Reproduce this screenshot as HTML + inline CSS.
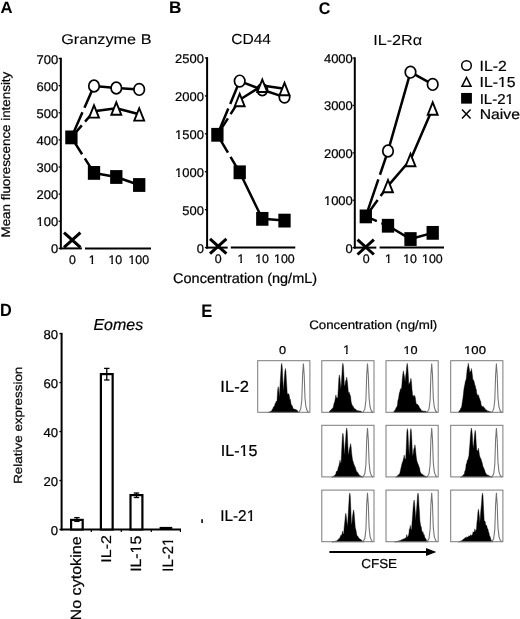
<!DOCTYPE html>
<html><head><meta charset="utf-8"><style>
html,body{margin:0;padding:0;background:#fff;}
svg{display:block;will-change:transform;}
text{text-rendering:geometricPrecision;font-kerning:none;font-family:"Liberation Sans", sans-serif;fill:#000;stroke:#000;stroke-width:0.22px;}
</style></head><body>
<svg width="520" height="619" viewBox="0 0 520 619">
<rect width="520" height="619" fill="#fff"/>
<text x="0.52" y="13.10" font-size="16.42" textLength="12.07" lengthAdjust="spacingAndGlyphs" font-weight="bold" style="stroke-width:0.05px">A</text>
<text x="169.01" y="12.90" font-size="16.86" textLength="12.43" lengthAdjust="spacingAndGlyphs" font-weight="bold" style="stroke-width:0.05px">B</text>
<text x="318.67" y="14.00" font-size="16.91" textLength="11.63" lengthAdjust="spacingAndGlyphs" font-weight="bold" style="stroke-width:0.05px">C</text>
<text x="0.08" y="315.80" font-size="17.73" textLength="11.76" lengthAdjust="spacingAndGlyphs" font-weight="bold" style="stroke-width:0.05px">D</text>
<text x="201.26" y="316.70" font-size="18.17" textLength="11.04" lengthAdjust="spacingAndGlyphs" font-weight="bold" style="stroke-width:0.05px">E</text>
<line x1="60.85" y1="57.70" x2="60.85" y2="249.40" stroke="#000" stroke-width="2" />
<line x1="58.65" y1="248.40" x2="60.85" y2="248.40" stroke="#000" stroke-width="1.3" />
<text x="58.21" y="253.40" font-size="12.6" text-anchor="end" textLength="7.22" lengthAdjust="spacingAndGlyphs" >0</text>
<line x1="58.65" y1="221.27" x2="60.85" y2="221.27" stroke="#000" stroke-width="1.3" />
<text x="58.21" y="226.27" font-size="12.6" text-anchor="end" textLength="21.66" lengthAdjust="spacingAndGlyphs" >100</text>
<g fill="#fff"><rect x="36.81" y="224.33" width="2.70" height="3.15"/><rect x="41.26" y="224.33" width="2.62" height="3.15"/></g>
<line x1="58.65" y1="194.14" x2="60.85" y2="194.14" stroke="#000" stroke-width="1.3" />
<text x="58.21" y="199.14" font-size="12.6" text-anchor="end" textLength="21.66" lengthAdjust="spacingAndGlyphs" >200</text>
<line x1="58.65" y1="167.01" x2="60.85" y2="167.01" stroke="#000" stroke-width="1.3" />
<text x="58.21" y="172.01" font-size="12.6" text-anchor="end" textLength="21.66" lengthAdjust="spacingAndGlyphs" >300</text>
<line x1="58.65" y1="139.89" x2="60.85" y2="139.89" stroke="#000" stroke-width="1.3" />
<text x="58.21" y="144.89" font-size="12.6" text-anchor="end" textLength="21.66" lengthAdjust="spacingAndGlyphs" >400</text>
<line x1="58.65" y1="112.76" x2="60.85" y2="112.76" stroke="#000" stroke-width="1.3" />
<text x="58.21" y="117.76" font-size="12.6" text-anchor="end" textLength="21.66" lengthAdjust="spacingAndGlyphs" >500</text>
<line x1="58.65" y1="85.63" x2="60.85" y2="85.63" stroke="#000" stroke-width="1.3" />
<text x="58.21" y="90.63" font-size="12.6" text-anchor="end" textLength="21.66" lengthAdjust="spacingAndGlyphs" >600</text>
<line x1="58.65" y1="58.50" x2="60.85" y2="58.50" stroke="#000" stroke-width="1.3" />
<text x="58.21" y="63.50" font-size="12.6" text-anchor="end" textLength="21.66" lengthAdjust="spacingAndGlyphs" >700</text>
<line x1="59.85" y1="248.40" x2="81.90" y2="248.40" stroke="#000" stroke-width="2" />
<line x1="85.00" y1="248.40" x2="151.00" y2="248.40" stroke="#000" stroke-width="2" />
<text x="72.40" y="264.00" font-size="12.4" text-anchor="middle" >0</text>
<text x="92.10" y="264.00" font-size="12.4" text-anchor="middle" >1</text>
<g fill="#fff"><rect x="88.90" y="262.07" width="2.56" height="3.13"/><rect x="93.17" y="262.07" width="2.49" height="3.13"/></g>
<text x="115.35" y="264.00" font-size="12.4" text-anchor="middle" >10</text>
<g fill="#fff"><rect x="108.70" y="262.07" width="2.56" height="3.13"/><rect x="112.97" y="262.07" width="2.49" height="3.13"/></g>
<text x="138.80" y="264.00" font-size="12.4" text-anchor="middle" >100</text>
<g fill="#fff"><rect x="128.70" y="262.07" width="2.56" height="3.13"/><rect x="132.97" y="262.07" width="2.49" height="3.13"/></g>
<path d="M71.40 137.40 L82.44 112.28 M84.46 107.71 L94.00 86.00 L116.30 88.00 L139.20 89.40" fill="none" stroke="#000" stroke-width="2.5" stroke-linejoin="round"/>
<path d="M71.40 137.40 L81.82 125.35 M85.08 121.57 L94.00 111.25 L116.30 108.30 L139.20 114.20" fill="none" stroke="#000" stroke-width="2.5" stroke-linejoin="round"/>
<path d="M71.40 137.40 L82.11 154.22 M84.79 158.44 L94.00 172.90 L116.30 177.00 L139.20 185.00" fill="none" stroke="#000" stroke-width="2.5" stroke-linejoin="round"/>
<rect x="65.25" y="130.50" width="12.3" height="13.8" fill="#000"/>
<rect x="87.85" y="166.00" width="12.3" height="13.8" fill="#000"/>
<rect x="110.15" y="170.10" width="12.3" height="13.8" fill="#000"/>
<rect x="133.05" y="178.10" width="12.3" height="13.8" fill="#000"/>
<ellipse cx="94.00" cy="86.00" rx="5.25" ry="5.85" fill="#fff" stroke="#000" stroke-width="1.7"/>
<ellipse cx="116.30" cy="88.00" rx="5.25" ry="5.85" fill="#fff" stroke="#000" stroke-width="1.7"/>
<ellipse cx="139.20" cy="89.40" rx="5.25" ry="5.85" fill="#fff" stroke="#000" stroke-width="1.7"/>
<polygon points="89.05,117.65 98.95,117.65 94.00,105.30" fill="#fff" stroke="#000" stroke-width="1.9"/>
<polygon points="111.35,114.70 121.25,114.70 116.30,102.35" fill="#fff" stroke="#000" stroke-width="1.9"/>
<polygon points="134.25,120.60 144.15,120.60 139.20,108.25" fill="#fff" stroke="#000" stroke-width="1.9"/>
<path d="M64.00 232.60L80.40 247.40M64.00 247.40L80.40 232.60" stroke="#000" stroke-width="3"/>
<line x1="207.10" y1="57.20" x2="207.10" y2="248.60" stroke="#000" stroke-width="2" />
<line x1="204.90" y1="247.60" x2="207.10" y2="247.60" stroke="#000" stroke-width="1.3" />
<text x="204.01" y="252.60" font-size="12.6" text-anchor="end" textLength="7.22" lengthAdjust="spacingAndGlyphs" >0</text>
<line x1="204.90" y1="209.68" x2="207.10" y2="209.68" stroke="#000" stroke-width="1.3" />
<text x="204.01" y="214.68" font-size="12.6" text-anchor="end" textLength="21.66" lengthAdjust="spacingAndGlyphs" >500</text>
<line x1="204.90" y1="171.76" x2="207.10" y2="171.76" stroke="#000" stroke-width="1.3" />
<text x="204.01" y="176.76" font-size="12.6" text-anchor="end" textLength="28.87" lengthAdjust="spacingAndGlyphs" >1000</text>
<g fill="#fff"><rect x="175.39" y="174.81" width="2.70" height="3.15"/><rect x="179.85" y="174.81" width="2.62" height="3.15"/></g>
<line x1="204.90" y1="133.84" x2="207.10" y2="133.84" stroke="#000" stroke-width="1.3" />
<text x="204.01" y="138.84" font-size="12.6" text-anchor="end" textLength="28.87" lengthAdjust="spacingAndGlyphs" >1500</text>
<g fill="#fff"><rect x="175.39" y="136.89" width="2.70" height="3.15"/><rect x="179.85" y="136.89" width="2.62" height="3.15"/></g>
<line x1="204.90" y1="95.92" x2="207.10" y2="95.92" stroke="#000" stroke-width="1.3" />
<text x="204.01" y="100.92" font-size="12.6" text-anchor="end" textLength="28.87" lengthAdjust="spacingAndGlyphs" >2000</text>
<line x1="204.90" y1="58.00" x2="207.10" y2="58.00" stroke="#000" stroke-width="1.3" />
<text x="204.01" y="63.00" font-size="12.6" text-anchor="end" textLength="28.87" lengthAdjust="spacingAndGlyphs" >2500</text>
<line x1="206.10" y1="247.60" x2="227.70" y2="247.60" stroke="#000" stroke-width="2" />
<line x1="230.80" y1="247.60" x2="295.30" y2="247.60" stroke="#000" stroke-width="2" />
<text x="218.20" y="263.20" font-size="12.4" text-anchor="middle" >0</text>
<text x="240.90" y="263.20" font-size="12.4" text-anchor="middle" >1</text>
<g fill="#fff"><rect x="237.70" y="261.27" width="2.56" height="3.13"/><rect x="241.97" y="261.27" width="2.49" height="3.13"/></g>
<text x="262.10" y="263.20" font-size="12.4" text-anchor="middle" >10</text>
<g fill="#fff"><rect x="255.45" y="261.27" width="2.56" height="3.13"/><rect x="259.72" y="261.27" width="2.49" height="3.13"/></g>
<text x="284.40" y="263.20" font-size="12.4" text-anchor="middle" >100</text>
<g fill="#fff"><rect x="274.30" y="261.27" width="2.56" height="3.13"/><rect x="278.57" y="261.27" width="2.49" height="3.13"/></g>
<path d="M217.40 134.80 L228.29 108.57 M230.21 103.96 L239.70 81.10 L262.30 89.70 L284.50 97.10" fill="none" stroke="#000" stroke-width="2.5" stroke-linejoin="round"/>
<path d="M217.40 134.80 L227.91 118.31 M230.59 114.09 L239.70 99.80 L262.30 85.60 L284.50 88.80" fill="none" stroke="#000" stroke-width="2.5" stroke-linejoin="round"/>
<path d="M217.40 134.80 L227.97 152.58 M230.53 156.88 L239.70 172.30 L262.30 218.85 L284.50 220.60" fill="none" stroke="#000" stroke-width="2.5" stroke-linejoin="round"/>
<rect x="211.25" y="127.90" width="12.3" height="13.8" fill="#000"/>
<rect x="233.55" y="165.40" width="12.3" height="13.8" fill="#000"/>
<rect x="256.15" y="211.95" width="12.3" height="13.8" fill="#000"/>
<rect x="278.35" y="213.70" width="12.3" height="13.8" fill="#000"/>
<ellipse cx="239.70" cy="81.10" rx="5.25" ry="5.85" fill="#fff" stroke="#000" stroke-width="1.7"/>
<ellipse cx="262.30" cy="89.70" rx="5.25" ry="5.85" fill="#fff" stroke="#000" stroke-width="1.7"/>
<ellipse cx="284.50" cy="97.10" rx="5.25" ry="5.85" fill="#fff" stroke="#000" stroke-width="1.7"/>
<polygon points="234.75,106.20 244.65,106.20 239.70,93.85" fill="#fff" stroke="#000" stroke-width="1.9"/>
<polygon points="257.35,92.00 267.25,92.00 262.30,79.65" fill="#fff" stroke="#000" stroke-width="1.9"/>
<polygon points="279.55,95.20 289.45,95.20 284.50,82.85" fill="#fff" stroke="#000" stroke-width="1.9"/>
<path d="M210.00 238.90L226.40 253.70M210.00 253.70L226.40 238.90" stroke="#000" stroke-width="3"/>
<line x1="354.80" y1="57.30" x2="354.80" y2="248.60" stroke="#000" stroke-width="2" />
<line x1="352.60" y1="247.60" x2="354.80" y2="247.60" stroke="#000" stroke-width="1.3" />
<text x="352.81" y="252.60" font-size="12.6" text-anchor="end" textLength="7.22" lengthAdjust="spacingAndGlyphs" >0</text>
<line x1="352.60" y1="200.22" x2="354.80" y2="200.22" stroke="#000" stroke-width="1.3" />
<text x="352.81" y="205.22" font-size="12.6" text-anchor="end" textLength="28.87" lengthAdjust="spacingAndGlyphs" >1000</text>
<g fill="#fff"><rect x="324.19" y="203.28" width="2.70" height="3.15"/><rect x="328.65" y="203.28" width="2.62" height="3.15"/></g>
<line x1="352.60" y1="152.85" x2="354.80" y2="152.85" stroke="#000" stroke-width="1.3" />
<text x="352.81" y="157.85" font-size="12.6" text-anchor="end" textLength="28.87" lengthAdjust="spacingAndGlyphs" >2000</text>
<line x1="352.60" y1="105.47" x2="354.80" y2="105.47" stroke="#000" stroke-width="1.3" />
<text x="352.81" y="110.47" font-size="12.6" text-anchor="end" textLength="28.87" lengthAdjust="spacingAndGlyphs" >3000</text>
<line x1="352.60" y1="58.10" x2="354.80" y2="58.10" stroke="#000" stroke-width="1.3" />
<text x="352.81" y="63.10" font-size="12.6" text-anchor="end" textLength="28.87" lengthAdjust="spacingAndGlyphs" >4000</text>
<line x1="353.80" y1="247.60" x2="376.30" y2="247.60" stroke="#000" stroke-width="2" />
<line x1="379.60" y1="247.60" x2="444.00" y2="247.60" stroke="#000" stroke-width="2" />
<text x="366.20" y="263.20" font-size="12.4" text-anchor="middle" >0</text>
<text x="388.40" y="263.20" font-size="12.4" text-anchor="middle" >1</text>
<g fill="#fff"><rect x="385.20" y="261.27" width="2.56" height="3.13"/><rect x="389.47" y="261.27" width="2.49" height="3.13"/></g>
<text x="410.10" y="263.20" font-size="12.4" text-anchor="middle" >10</text>
<g fill="#fff"><rect x="403.45" y="261.27" width="2.56" height="3.13"/><rect x="407.72" y="261.27" width="2.49" height="3.13"/></g>
<text x="432.40" y="263.20" font-size="12.4" text-anchor="middle" >100</text>
<g fill="#fff"><rect x="422.30" y="261.27" width="2.56" height="3.13"/><rect x="426.57" y="261.27" width="2.49" height="3.13"/></g>
<path d="M365.80 216.40 L378.35 179.47 M379.95 174.73 L388.00 151.05 L410.50 72.15 L432.70 84.40" fill="none" stroke="#000" stroke-width="2.5" stroke-linejoin="round"/>
<path d="M365.80 216.40 L377.68 200.08 M380.62 196.04 L388.00 185.90 L410.50 159.80 L432.70 108.30" fill="none" stroke="#000" stroke-width="2.5" stroke-linejoin="round"/>
<path d="M365.80 216.40 L376.85 221.05 M381.45 222.99 L388.00 225.75 L410.50 239.05 L432.70 232.85" fill="none" stroke="#000" stroke-width="2.5" stroke-linejoin="round"/>
<rect x="359.65" y="209.50" width="12.3" height="13.8" fill="#000"/>
<rect x="381.85" y="218.85" width="12.3" height="13.8" fill="#000"/>
<rect x="404.35" y="232.15" width="12.3" height="13.8" fill="#000"/>
<rect x="426.55" y="225.95" width="12.3" height="13.8" fill="#000"/>
<ellipse cx="388.00" cy="151.05" rx="5.25" ry="5.85" fill="#fff" stroke="#000" stroke-width="1.7"/>
<ellipse cx="410.50" cy="72.15" rx="5.25" ry="5.85" fill="#fff" stroke="#000" stroke-width="1.7"/>
<ellipse cx="432.70" cy="84.40" rx="5.25" ry="5.85" fill="#fff" stroke="#000" stroke-width="1.7"/>
<polygon points="383.05,192.30 392.95,192.30 388.00,179.95" fill="#fff" stroke="#000" stroke-width="1.9"/>
<polygon points="405.55,166.20 415.45,166.20 410.50,153.85" fill="#fff" stroke="#000" stroke-width="1.9"/>
<polygon points="427.75,114.70 437.65,114.70 432.70,102.35" fill="#fff" stroke="#000" stroke-width="1.9"/>
<path d="M357.50 239.70L373.90 254.50M357.50 254.50L373.90 239.70" stroke="#000" stroke-width="3"/>
<text x="61.24" y="43.90" font-size="14.04" textLength="90.28" lengthAdjust="spacingAndGlyphs" style="stroke-width:0.1px">Granzyme B</text>
<text x="231.17" y="44.40" font-size="14.61" textLength="39.86" lengthAdjust="spacingAndGlyphs" style="stroke-width:0.1px">CD44</text>
<text x="373.15" y="44.70" font-size="14.61" textLength="49.10" lengthAdjust="spacingAndGlyphs" style="stroke-width:0.1px">IL-2R&#945;</text>
<text x="9.60" y="237.45" font-size="12.43" textLength="165.72" lengthAdjust="spacingAndGlyphs" transform="rotate(-90 9.60 237.45)" >Mean fluorescence intensity</text>
<text x="173.13" y="282.50" font-size="14.09" textLength="143.94" lengthAdjust="spacingAndGlyphs" >Concentration (ng/mL)</text>
<ellipse cx="466.50" cy="65.50" rx="4.8" ry="4.75" fill="#fff" stroke="#000" stroke-width="1.5"/>
<polygon points="461.95,86.35 471.05,86.35 466.50,77.50" fill="#fff" stroke="#000" stroke-width="1.5"/>
<rect x="461.10" y="92.95" width="10.8" height="10.7" fill="#000"/>
<path d="M462.00 109.50L470.60 118.50M462.00 118.50L470.60 109.50" stroke="#000" stroke-width="1.5"/>
<text x="479.60" y="71.40" font-size="14.61" textLength="27.23" lengthAdjust="spacingAndGlyphs" >IL-2</text>
<text x="479.60" y="87.30" font-size="14.53" textLength="35.90" lengthAdjust="spacingAndGlyphs" >IL-15</text>
<g fill="#fff"><rect x="498.30" y="85.19" width="3.34" height="3.31"/><rect x="503.64" y="85.19" width="3.24" height="3.31"/></g>
<text x="479.67" y="103.70" font-size="14.33" textLength="34.19" lengthAdjust="spacingAndGlyphs" >IL-21</text>
<g fill="#fff"><rect x="505.82" y="101.61" width="3.16" height="3.29"/><rect x="510.92" y="101.61" width="3.07" height="3.29"/></g>
<text x="479.76" y="119.40" font-size="14.09" textLength="40.19" lengthAdjust="spacingAndGlyphs" >Naive</text>
<line x1="61.60" y1="332.80" x2="61.60" y2="530.50" stroke="#000" stroke-width="2" />
<line x1="59.40" y1="529.50" x2="61.60" y2="529.50" stroke="#000" stroke-width="1.3" />
<text x="58.11" y="534.50" font-size="12.9" text-anchor="end" textLength="7.32" lengthAdjust="spacingAndGlyphs" >0</text>
<line x1="59.40" y1="480.52" x2="61.60" y2="480.52" stroke="#000" stroke-width="1.3" />
<text x="58.11" y="485.52" font-size="12.9" text-anchor="end" textLength="14.64" lengthAdjust="spacingAndGlyphs" >20</text>
<line x1="59.40" y1="431.55" x2="61.60" y2="431.55" stroke="#000" stroke-width="1.3" />
<text x="58.11" y="436.55" font-size="12.9" text-anchor="end" textLength="14.64" lengthAdjust="spacingAndGlyphs" >40</text>
<line x1="59.40" y1="382.58" x2="61.60" y2="382.58" stroke="#000" stroke-width="1.3" />
<text x="58.11" y="387.58" font-size="12.9" text-anchor="end" textLength="14.64" lengthAdjust="spacingAndGlyphs" >60</text>
<line x1="59.40" y1="333.60" x2="61.60" y2="333.60" stroke="#000" stroke-width="1.3" />
<text x="58.11" y="338.60" font-size="12.9" text-anchor="end" textLength="14.64" lengthAdjust="spacingAndGlyphs" >80</text>
<line x1="60.60" y1="529.50" x2="181.00" y2="529.50" stroke="#000" stroke-width="2" />
<line x1="91.30" y1="529.50" x2="91.30" y2="532.10" stroke="#000" stroke-width="1.2" />
<line x1="121.30" y1="529.50" x2="121.30" y2="532.10" stroke="#000" stroke-width="1.2" />
<line x1="151.30" y1="529.50" x2="151.30" y2="532.10" stroke="#000" stroke-width="1.2" />
<line x1="180.40" y1="529.50" x2="180.40" y2="532.10" stroke="#000" stroke-width="1.2" />
<rect x="71.10" y="519.90" width="11.60" height="9.60" fill="#fff" stroke="#000" stroke-width="2.2"/>
<line x1="76.90" y1="517.60" x2="76.90" y2="521.40" stroke="#000" stroke-width="1.3" />
<line x1="74.20" y1="517.60" x2="79.60" y2="517.60" stroke="#000" stroke-width="1.3" />
<line x1="74.20" y1="521.40" x2="79.60" y2="521.40" stroke="#000" stroke-width="1.3" />
<rect x="100.90" y="374.10" width="11.75" height="155.40" fill="#fff" stroke="#000" stroke-width="2.2"/>
<line x1="106.78" y1="368.40" x2="106.78" y2="380.00" stroke="#000" stroke-width="1.3" />
<line x1="104.08" y1="368.40" x2="109.48" y2="368.40" stroke="#000" stroke-width="1.3" />
<line x1="104.08" y1="380.00" x2="109.48" y2="380.00" stroke="#000" stroke-width="1.3" />
<rect x="130.50" y="495.10" width="11.90" height="34.40" fill="#fff" stroke="#000" stroke-width="2.2"/>
<line x1="136.45" y1="493.00" x2="136.45" y2="497.50" stroke="#000" stroke-width="1.3" />
<line x1="133.75" y1="493.00" x2="139.15" y2="493.00" stroke="#000" stroke-width="1.3" />
<line x1="133.75" y1="497.50" x2="139.15" y2="497.50" stroke="#000" stroke-width="1.3" />
<rect x="159.6" y="526.9" width="12.7" height="2.4" fill="#000"/>
<text x="93.47" y="330.40" font-size="15.84" textLength="49.70" lengthAdjust="spacingAndGlyphs" font-style="italic" >Eomes</text>
<text x="21.80" y="483.85" font-size="11.74" textLength="117.17" lengthAdjust="spacingAndGlyphs" transform="rotate(-90 21.80 483.85)" >Relative expression</text>
<text x="81.30" y="620.47" font-size="14.78" textLength="84.14" lengthAdjust="spacingAndGlyphs" transform="rotate(-90 81.30 620.47)" >No cytokine</text>
<text x="111.40" y="562.62" font-size="14.04" textLength="27.45" lengthAdjust="spacingAndGlyphs" transform="rotate(-90 111.40 562.62)" >IL-2</text>
<text x="141.20" y="571.80" font-size="14.97" textLength="36.01" lengthAdjust="spacingAndGlyphs" transform="rotate(-90 141.20 571.80)" >IL-15</text>
<g fill="#fff" transform="rotate(-90 141.20 571.80)"><rect x="159.95" y="569.66" width="3.35" height="3.34"/><rect x="165.31" y="569.66" width="3.25" height="3.34"/></g>
<text x="172.60" y="571.72" font-size="15.04" textLength="33.98" lengthAdjust="spacingAndGlyphs" transform="rotate(-90 172.60 571.72)" >IL-21</text>
<g fill="#fff" transform="rotate(-90 172.60 571.72)"><rect x="198.58" y="569.57" width="3.14" height="3.35"/><rect x="203.65" y="569.57" width="3.05" height="3.35"/></g>
<text x="309.18" y="329.10" font-size="12.29" textLength="128.11" lengthAdjust="spacingAndGlyphs" >Concentration (ng/ml)</text>
<text x="279.14" y="353.50" font-size="11.32" textLength="7.10" lengthAdjust="spacingAndGlyphs" >0</text>
<text x="346.60" y="353.50" font-size="12.4" text-anchor="middle" >1</text>
<g fill="#fff"><rect x="343.40" y="351.57" width="2.56" height="3.13"/><rect x="347.67" y="351.57" width="2.49" height="3.13"/></g>
<text x="403.48" y="353.50" font-size="11.32" textLength="14.15" lengthAdjust="spacingAndGlyphs" >10</text>
<g fill="#fff"><rect x="403.74" y="351.66" width="2.64" height="3.04"/><rect x="408.11" y="351.66" width="2.56" height="3.04"/></g>
<text x="464.05" y="353.50" font-size="11.32" textLength="21.90" lengthAdjust="spacingAndGlyphs" >100</text>
<g fill="#fff"><rect x="464.31" y="351.66" width="2.73" height="3.04"/><rect x="468.82" y="351.66" width="2.65" height="3.04"/></g>
<text x="220.33" y="392.30" font-size="16.05" textLength="28.54" lengthAdjust="spacingAndGlyphs" >IL-2</text>
<text x="220.87" y="456.20" font-size="15.99" textLength="36.64" lengthAdjust="spacingAndGlyphs" >IL-15</text>
<g fill="#fff"><rect x="239.95" y="453.97" width="3.41" height="3.43"/><rect x="245.40" y="453.97" width="3.32" height="3.43"/></g>
<text x="220.24" y="520.80" font-size="15.62" textLength="34.94" lengthAdjust="spacingAndGlyphs" >IL-21</text>
<g fill="#fff"><rect x="246.96" y="518.60" width="3.24" height="3.40"/><rect x="252.16" y="518.60" width="3.15" height="3.40"/></g>
<path d="M267.80 412.50 L267.80 412.60 L268.30 412.40 L268.80 412.20 L269.30 412.00 L269.80 411.80 L270.30 411.60 L270.80 411.40 L271.30 411.20 L271.79 410.25 L272.27 409.21 L272.76 408.90 L273.24 407.25 L273.73 407.12 L274.21 405.96 L274.70 405.40 L275.16 403.35 L275.62 403.58 L276.08 401.18 L276.54 401.51 L277.00 400.80 L277.70 389.70 L278.20 386.70 L278.70 389.70 L279.40 397.40 L279.85 388.25 L280.30 380.54 L280.75 373.83 L281.20 366.30 L281.70 363.30 L282.20 366.30 L282.80 380.00 L283.40 391.60 L283.90 383.70 L284.40 377.31 L284.90 371.50 L285.40 368.50 L285.90 371.50 L286.55 382.51 L287.20 392.70 L287.73 394.53 L288.27 393.75 L288.80 393.90 L289.32 395.87 L289.85 400.02 L290.38 399.35 L290.90 403.10 L291.36 405.21 L291.82 404.94 L292.28 405.91 L292.74 407.16 L293.20 408.90 L293.68 408.79 L294.17 409.44 L294.65 408.86 L295.13 409.38 L295.62 409.54 L296.10 409.50 L296.58 409.88 L297.07 410.50 L297.55 410.73 L298.03 411.43 L298.52 411.92 L299.00 412.40 L299.00 412.50Z" fill="#000" stroke="#000" stroke-width="0.4"/>
<path d="M298.70 412.60 L300.70 409.20 L301.80 400.20 L302.60 375.20 L303.40 363.50 L304.20 375.20 L305.00 398.20 L306.00 407.20 L307.20 410.70 L308.70 412.60" fill="none" stroke="#707070" stroke-width="1.05"/>
<rect x="257.70" y="360.70" width="52.20" height="51.60" fill="none" stroke="#7a7a7a" stroke-width="1"/>
<path d="M329.00 412.50 L329.00 412.10 L329.46 411.61 L329.91 411.12 L330.37 410.37 L330.82 409.92 L331.28 409.82 L331.73 409.09 L332.19 408.45 L332.64 408.31 L333.10 407.70 L333.56 405.66 L334.02 403.26 L334.48 402.82 L334.94 400.58 L335.40 398.00 L335.90 395.00 L336.40 398.00 L337.05 397.43 L337.70 398.50 L338.30 388.44 L338.90 377.90 L339.40 374.90 L339.90 377.90 L340.40 383.68 L340.90 389.30 L341.40 382.83 L341.90 374.70 L342.40 366.30 L342.90 363.30 L343.40 366.30 L343.90 375.37 L344.40 385.80 L345.00 385.47 L345.60 380.84 L346.20 380.20 L346.70 377.20 L347.20 380.20 L347.75 385.64 L348.30 391.60 L348.75 393.27 L349.20 392.19 L349.65 394.11 L350.10 395.00 L350.57 396.26 L351.03 401.00 L351.50 403.20 L351.96 404.81 L352.42 405.18 L352.88 406.69 L353.34 406.46 L353.80 407.70 L354.30 408.39 L354.80 408.65 L355.30 409.03 L355.80 409.31 L356.30 410.07 L356.80 410.52 L357.30 410.60 L357.80 410.67 L358.30 410.86 L358.80 410.63 L359.30 411.04 L359.80 411.03 L360.30 411.11 L360.80 411.20 L361.37 411.60 L361.93 412.00 L362.50 412.40 L362.50 412.50Z" fill="#000" stroke="#000" stroke-width="0.4"/>
<path d="M362.80 412.60 L364.80 409.20 L365.90 400.20 L366.70 375.20 L367.50 363.50 L368.30 375.20 L369.10 398.20 L370.10 407.20 L371.30 410.70 L372.80 412.60" fill="none" stroke="#707070" stroke-width="1.05"/>
<rect x="321.80" y="360.70" width="52.20" height="51.60" fill="none" stroke="#7a7a7a" stroke-width="1"/>
<path d="M393.60 412.50 L393.60 412.10 L394.09 411.31 L394.57 410.62 L395.06 410.18 L395.54 409.32 L396.03 407.87 L396.51 407.20 L397.00 406.60 L397.48 404.55 L397.97 400.07 L398.45 398.98 L398.93 395.54 L399.42 392.87 L399.90 391.60 L400.50 388.66 L401.10 389.39 L401.70 387.00 L402.30 379.21 L402.90 373.80 L403.40 370.80 L403.90 373.80 L404.50 376.99 L405.10 381.80 L405.63 376.28 L406.17 372.66 L406.70 366.30 L407.20 363.30 L407.70 366.30 L408.25 374.16 L408.80 384.70 L409.33 383.40 L409.87 382.59 L410.40 381.30 L410.90 378.30 L411.40 381.30 L412.00 389.38 L412.60 395.00 L413.06 396.26 L413.52 396.64 L413.98 395.01 L414.44 395.69 L414.90 396.20 L415.35 397.77 L415.80 401.48 L416.25 403.74 L416.70 404.30 L417.16 403.90 L417.62 404.47 L418.08 405.10 L418.54 405.60 L419.00 406.60 L419.46 407.38 L419.92 408.32 L420.38 408.73 L420.84 409.37 L421.30 410.60 L421.76 410.63 L422.22 410.69 L422.68 410.88 L423.14 411.15 L423.60 411.09 L424.06 411.08 L424.52 411.16 L424.98 411.24 L425.44 411.32 L425.90 411.40 L426.47 411.80 L427.03 412.20 L427.60 412.60 L427.60 412.50Z" fill="#000" stroke="#000" stroke-width="0.4"/>
<path d="M427.00 412.60 L429.00 409.20 L430.10 400.20 L430.90 375.20 L431.70 363.50 L432.50 375.20 L433.30 398.20 L434.30 407.20 L435.50 410.70 L437.00 412.60" fill="none" stroke="#707070" stroke-width="1.05"/>
<rect x="386.00" y="360.70" width="52.20" height="51.60" fill="none" stroke="#7a7a7a" stroke-width="1"/>
<path d="M458.50 412.50 L458.50 412.10 L458.98 411.37 L459.47 410.64 L459.95 410.00 L460.43 409.35 L460.92 407.85 L461.40 407.70 L461.88 405.30 L462.37 401.70 L462.85 398.55 L463.33 394.85 L463.82 390.11 L464.30 387.00 L464.87 384.34 L465.43 381.06 L466.00 380.00 L466.45 377.00 L466.90 371.75 L467.35 368.34 L467.80 366.30 L468.30 363.30 L468.80 366.30 L469.30 368.77 L469.80 373.10 L470.35 371.22 L470.90 371.50 L471.40 368.50 L471.90 371.50 L472.40 375.24 L472.90 380.00 L473.40 379.87 L473.90 381.00 L474.40 382.78 L474.90 385.20 L475.35 385.80 L475.80 388.51 L476.25 389.31 L476.70 392.70 L477.22 394.94 L477.74 395.15 L478.26 394.70 L478.78 396.07 L479.30 397.90 L479.76 398.91 L480.22 400.47 L480.68 401.19 L481.14 404.86 L481.60 405.40 L482.06 406.91 L482.52 406.25 L482.98 406.75 L483.44 406.54 L483.90 407.70 L484.38 407.63 L484.87 408.47 L485.35 408.90 L485.83 409.94 L486.32 409.86 L486.80 410.60 L487.26 410.48 L487.72 411.13 L488.18 411.05 L488.64 411.20 L489.10 411.35 L489.56 411.50 L490.02 411.65 L490.48 411.80 L490.94 411.95 L491.40 412.10 L491.40 412.50Z" fill="#000" stroke="#000" stroke-width="0.4"/>
<path d="M491.70 412.60 L493.70 409.20 L494.80 400.20 L495.60 375.20 L496.40 363.50 L497.20 375.20 L498.00 398.20 L499.00 407.20 L500.20 410.70 L501.70 412.60" fill="none" stroke="#707070" stroke-width="1.05"/>
<rect x="450.70" y="360.70" width="52.20" height="51.60" fill="none" stroke="#7a7a7a" stroke-width="1"/>
<path d="M331.90 477.10 L331.90 477.40 L332.40 477.03 L332.90 476.66 L333.40 476.29 L333.90 475.91 L334.40 475.56 L334.90 474.95 L335.40 474.80 L335.88 473.60 L336.37 471.57 L336.85 471.10 L337.33 470.92 L337.82 469.54 L338.30 467.30 L338.90 465.93 L339.50 463.30 L340.00 460.30 L340.50 463.30 L341.10 462.60 L341.75 448.64 L342.40 436.20 L342.90 433.20 L343.40 436.20 L343.90 445.52 L344.40 455.70 L345.00 446.40 L345.60 440.10 L346.20 431.00 L346.70 428.00 L347.20 431.00 L347.75 442.90 L348.30 454.60 L348.75 453.49 L349.20 450.05 L349.65 447.71 L350.10 446.60 L350.60 443.60 L351.10 446.60 L351.60 452.70 L352.10 456.80 L352.56 459.99 L353.02 461.21 L353.48 462.70 L353.94 464.38 L354.40 465.00 L354.86 467.15 L355.32 466.94 L355.78 469.18 L356.24 470.22 L356.70 471.90 L357.18 471.77 L357.67 472.42 L358.15 473.35 L358.63 473.94 L359.12 474.88 L359.60 475.30 L360.10 475.78 L360.60 475.81 L361.10 476.07 L361.60 476.33 L362.10 476.59 L362.60 476.84 L363.10 477.10 L363.10 477.10Z" fill="#000" stroke="#000" stroke-width="0.4"/>
<path d="M362.80 477.20 L364.80 473.80 L365.90 464.80 L366.70 439.80 L367.50 428.10 L368.30 439.80 L369.10 462.80 L370.10 471.80 L371.30 475.30 L372.80 477.20" fill="none" stroke="#707070" stroke-width="1.05"/>
<rect x="321.80" y="425.30" width="52.20" height="51.60" fill="none" stroke="#7a7a7a" stroke-width="1"/>
<path d="M395.90 477.10 L395.90 477.40 L396.40 476.85 L396.90 476.30 L397.40 475.75 L397.90 475.17 L398.40 474.99 L398.90 474.57 L399.40 474.07 L399.90 473.00 L400.38 470.82 L400.87 468.46 L401.35 466.39 L401.83 464.36 L402.32 462.47 L402.80 461.50 L403.70 458.10 L404.20 455.10 L404.70 458.10 L405.20 459.05 L405.70 459.20 L406.30 446.68 L406.90 431.60 L407.40 428.60 L407.90 431.60 L408.55 444.74 L409.20 455.70 L409.80 443.58 L410.40 431.60 L410.90 428.60 L411.40 431.60 L412.00 444.14 L412.60 455.70 L413.20 454.03 L413.80 449.10 L414.40 447.80 L414.90 444.80 L415.40 447.80 L415.90 453.41 L416.40 458.00 L416.92 461.05 L417.44 462.38 L417.96 464.02 L418.48 464.89 L419.00 466.70 L419.57 467.95 L420.13 471.47 L420.70 473.00 L421.18 473.18 L421.67 474.09 L422.15 474.60 L422.63 474.45 L423.12 474.85 L423.60 475.30 L424.09 475.78 L424.57 475.81 L425.06 476.07 L425.54 476.33 L426.03 476.59 L426.51 476.84 L427.00 477.10 L427.00 477.10Z" fill="#000" stroke="#000" stroke-width="0.4"/>
<path d="M427.00 477.20 L429.00 473.80 L430.10 464.80 L430.90 439.80 L431.70 428.10 L432.50 439.80 L433.30 462.80 L434.30 471.80 L435.50 475.30 L437.00 477.20" fill="none" stroke="#707070" stroke-width="1.05"/>
<rect x="386.00" y="425.30" width="52.20" height="51.60" fill="none" stroke="#7a7a7a" stroke-width="1"/>
<path d="M460.80 477.10 L460.80 477.40 L461.30 476.94 L461.80 476.49 L462.30 476.03 L462.80 475.68 L463.30 474.90 L463.80 474.37 L464.30 474.20 L464.78 471.30 L465.27 470.54 L465.75 468.22 L466.23 463.80 L466.72 463.66 L467.20 460.30 L467.77 460.30 L468.33 457.74 L468.90 455.70 L469.40 449.05 L469.90 443.51 L470.40 435.99 L470.90 431.00 L471.40 428.00 L471.90 431.00 L472.37 435.38 L472.83 444.37 L473.30 448.80 L473.77 444.11 L474.23 438.55 L474.70 433.30 L475.20 430.30 L475.70 433.30 L476.20 443.04 L476.70 450.00 L477.30 450.39 L477.90 451.20 L478.40 448.20 L478.90 451.20 L479.40 454.66 L479.90 456.78 L480.40 458.00 L480.88 458.63 L481.37 460.31 L481.85 461.99 L482.33 463.37 L482.82 466.03 L483.30 467.30 L483.78 467.78 L484.27 469.41 L484.75 470.00 L485.23 472.58 L485.72 472.86 L486.20 474.20 L486.70 474.41 L487.20 474.75 L487.70 475.21 L488.20 475.12 L488.70 475.64 L489.20 475.66 L489.70 475.90 L490.16 476.20 L490.62 476.50 L491.08 476.80 L491.54 477.10 L492.00 477.40 L492.00 477.10Z" fill="#000" stroke="#000" stroke-width="0.4"/>
<path d="M491.70 477.20 L493.70 473.80 L494.80 464.80 L495.60 439.80 L496.40 428.10 L497.20 439.80 L498.00 462.80 L499.00 471.80 L500.20 475.30 L501.70 477.20" fill="none" stroke="#707070" stroke-width="1.05"/>
<rect x="450.70" y="425.30" width="52.20" height="51.60" fill="none" stroke="#7a7a7a" stroke-width="1"/>
<path d="M331.90 541.90 L331.90 542.10 L332.36 541.98 L332.82 541.86 L333.28 541.74 L333.74 541.62 L334.20 541.50 L334.66 541.38 L335.12 541.26 L335.58 541.14 L336.04 541.02 L336.50 540.90 L336.98 540.52 L337.47 540.13 L337.95 539.77 L338.43 539.39 L338.92 538.53 L339.40 538.60 L339.86 537.72 L340.32 536.50 L340.78 535.30 L341.24 536.02 L341.70 534.60 L342.00 534.10 L342.50 531.10 L343.00 534.10 L343.70 533.40 L344.23 526.65 L344.77 521.92 L345.30 516.30 L345.80 513.30 L346.30 516.30 L346.90 522.12 L347.50 526.50 L347.95 519.08 L348.40 510.74 L348.85 503.76 L349.30 496.10 L349.80 493.10 L350.30 496.10 L350.90 510.93 L351.50 525.40 L352.03 522.11 L352.57 515.74 L353.10 512.80 L353.60 509.80 L354.10 512.80 L354.70 520.44 L355.30 527.70 L355.77 529.20 L356.23 531.61 L356.70 534.60 L357.16 535.88 L357.62 536.01 L358.08 536.80 L358.54 537.77 L359.00 538.10 L359.48 538.93 L359.97 538.81 L360.45 539.35 L360.93 539.64 L361.42 540.02 L361.90 540.40 L362.47 540.97 L363.03 541.53 L363.60 542.10 L363.60 541.90Z" fill="#000" stroke="#000" stroke-width="0.4"/>
<path d="M362.80 542.00 L364.80 538.60 L365.90 529.60 L366.70 504.60 L367.50 492.90 L368.30 504.60 L369.10 527.60 L370.10 536.60 L371.30 540.10 L372.80 542.00" fill="none" stroke="#707070" stroke-width="1.05"/>
<rect x="321.80" y="490.10" width="52.20" height="51.60" fill="none" stroke="#7a7a7a" stroke-width="1"/>
<path d="M394.70 541.90 L394.70 542.10 L395.18 541.96 L395.67 541.82 L396.15 541.68 L396.63 541.53 L397.12 541.39 L397.60 541.25 L398.08 541.11 L398.57 540.97 L399.05 540.83 L399.53 540.68 L400.02 540.54 L400.50 540.40 L401.00 540.25 L401.50 539.85 L402.00 539.65 L402.50 539.35 L403.00 539.51 L403.50 539.05 L404.00 538.60 L404.46 538.82 L404.92 538.72 L405.38 537.70 L405.84 537.88 L406.30 537.60 L406.80 534.60 L407.30 537.60 L408.00 536.30 L408.45 535.40 L408.90 533.39 L409.35 529.21 L409.80 528.40 L410.30 525.40 L410.80 528.40 L411.50 530.60 L412.02 522.49 L412.55 516.61 L413.07 508.53 L413.60 503.00 L414.10 500.00 L414.60 503.00 L415.15 511.07 L415.70 520.80 L416.15 513.26 L416.60 508.99 L417.05 503.18 L417.50 496.10 L418.00 493.10 L418.50 496.10 L418.97 505.60 L419.43 511.46 L419.90 520.80 L420.38 523.94 L420.85 526.21 L421.32 527.01 L421.80 530.60 L422.40 532.38 L423.00 531.70 L423.57 534.70 L424.13 534.56 L424.70 536.90 L425.16 538.31 L425.62 538.39 L426.08 539.29 L426.54 540.38 L427.00 540.90 L427.60 541.50 L428.20 542.10 L428.20 541.90Z" fill="#000" stroke="#000" stroke-width="0.4"/>
<path d="M427.00 542.00 L429.00 538.60 L430.10 529.60 L430.90 504.60 L431.70 492.90 L432.50 504.60 L433.30 527.60 L434.30 536.60 L435.50 540.10 L437.00 542.00" fill="none" stroke="#707070" stroke-width="1.05"/>
<rect x="386.00" y="490.10" width="52.20" height="51.60" fill="none" stroke="#7a7a7a" stroke-width="1"/>
<path d="M458.50 541.90 L458.50 542.10 L459.00 541.86 L459.50 541.61 L460.00 541.37 L460.50 541.13 L461.00 540.89 L461.50 540.64 L462.00 540.40 L462.48 540.22 L462.97 539.39 L463.45 539.19 L463.93 538.88 L464.42 538.31 L464.90 538.10 L465.39 537.54 L465.87 537.52 L466.36 537.89 L466.84 536.72 L467.33 537.32 L467.81 536.98 L468.30 536.90 L468.78 535.80 L469.27 536.03 L469.75 536.28 L470.23 535.79 L470.72 534.59 L471.20 535.20 L471.66 535.75 L472.12 534.77 L472.58 534.73 L473.04 531.74 L473.50 532.30 L474.40 531.80 L474.90 528.80 L475.40 531.80 L475.90 530.15 L476.40 530.00 L476.90 522.59 L477.40 519.03 L477.90 512.20 L478.40 509.20 L478.90 512.20 L479.40 516.92 L479.90 523.10 L480.43 515.16 L480.95 509.35 L481.47 504.17 L482.00 496.10 L482.50 493.10 L483.00 496.10 L483.60 509.47 L484.20 520.80 L484.72 521.05 L485.24 521.72 L485.76 525.20 L486.28 525.11 L486.80 525.90 L487.37 528.67 L487.93 528.85 L488.50 532.30 L488.96 532.52 L489.42 535.47 L489.88 536.31 L490.34 537.26 L490.80 539.20 L491.37 540.41 L491.93 541.13 L492.50 542.10 L492.50 541.90Z" fill="#000" stroke="#000" stroke-width="0.4"/>
<path d="M491.70 542.00 L493.70 538.60 L494.80 529.60 L495.60 504.60 L496.40 492.90 L497.20 504.60 L498.00 527.60 L499.00 536.60 L500.20 540.10 L501.70 542.00" fill="none" stroke="#707070" stroke-width="1.05"/>
<rect x="450.70" y="490.10" width="52.20" height="51.60" fill="none" stroke="#7a7a7a" stroke-width="1"/>
<line x1="329.40" y1="552.00" x2="428.00" y2="552.00" stroke="#000" stroke-width="2" />
<polygon points="426.0,548.0 436.4,552.0 426.0,556.0" fill="#000"/>
<text x="361.18" y="567.70" font-size="13.04" textLength="35.95" lengthAdjust="spacingAndGlyphs" >CFSE</text>
<rect x="201.2" y="519.2" width="1.8" height="3.8" fill="#222"/>
</svg>
</body></html>
